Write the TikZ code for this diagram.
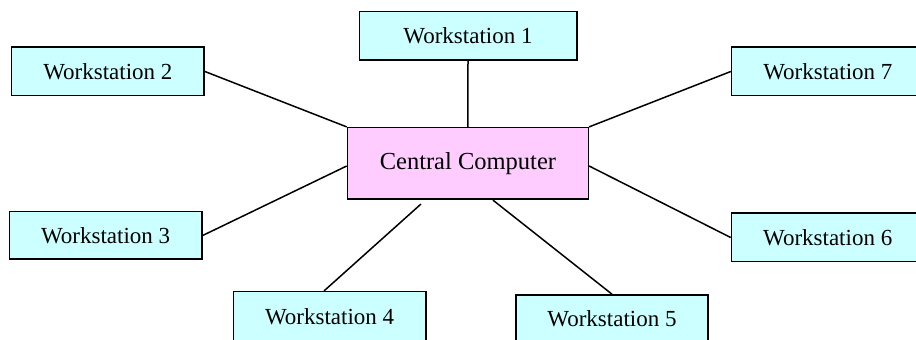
\documentclass[tikz,border=0pt]{standalone}
\usepackage{fontspec}
\setmainfont{Liberation Serif}
\definecolor{wsfill}{RGB}{204,255,255}
\definecolor{ccfill}{RGB}{255,204,255}
\begin{document}
\begin{tikzpicture}[x=1pt,y=1pt,
  wsbox/.style={draw=black, line width=1.6pt, fill=wsfill, inner sep=0pt,
    minimum height=48.4pt, minimum width=192.5pt, font=\fontsize{23}{26}\selectfont},
  hubbox/.style={draw=black, line width=1.6pt, fill=ccfill, inner sep=0pt,
    minimum width=240.8pt, minimum height=71.6pt, font=\fontsize{24.5}{28}\selectfont},
  link/.style={draw=black, line width=1.5pt}]
  \useasboundingbox (0,0) rectangle (916,340);
  \clip (0,0) rectangle (916,340);
  \fill[white] (0,0) rectangle (916,340);

  % hub
  \node[hubbox] (cc) at (467.9,176.5) {Central Computer};

  % workstations
  \node[wsbox, minimum width=217.4pt, minimum height=48.3pt] (ws1) at (468,304.15) {Workstation 1};
  \node[wsbox] (ws2) at (107.85,268.5) {Workstation 2};
  \node[wsbox, minimum height=47.6pt] (ws3) at (105.65,104.5) {Workstation 3};
  \node[wsbox, minimum height=49pt] (ws4) at (329.65,23.8) {Workstation 4};
  \node[wsbox, minimum height=48pt] (ws5) at (612,21) {Workstation 5};
  \node[wsbox] (ws6) at (827.7,102.5) {Workstation 6};
  \node[wsbox] (ws7) at (827.85,268.5) {Workstation 7};

  % links to the hub
  \draw[link] (ws1.south) -- (cc.north);
  \draw[link] (ws2.east) -- (cc.north west);
  \draw[link] (ws3.east) -- ([yshift=-2.5pt]cc.west);
  \draw[link] ([xshift=-5.6pt]ws4.north) -- ([xshift=-47pt,yshift=-4pt]cc.south);
  \draw[link] (ws5.north) -- ([xshift=25pt]cc.south);
  \draw[link] (ws6.west) -- ([yshift=-2.5pt]cc.east);
  \draw[link] (ws7.west) -- (cc.north east);
\end{tikzpicture}
\end{document}
